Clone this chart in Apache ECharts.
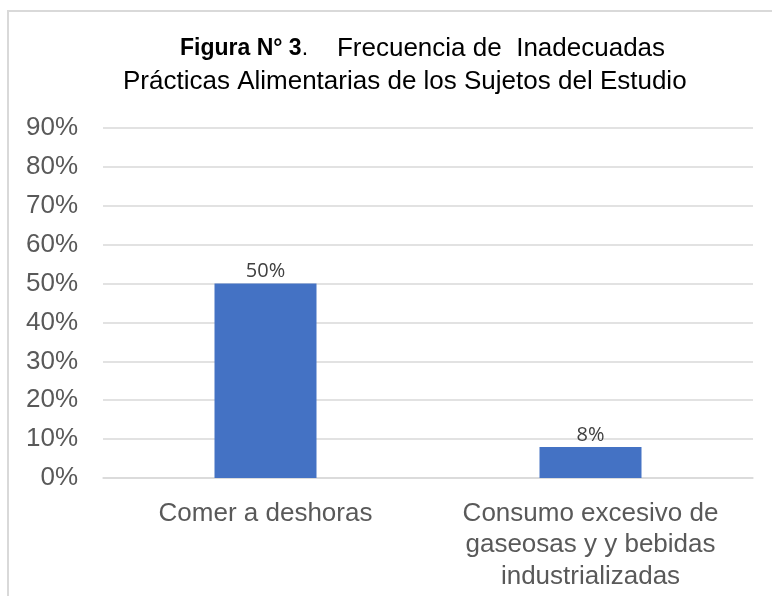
<!DOCTYPE html>
<html>
<head>
<meta charset="utf-8">
<script src="https://cdn.jsdelivr.net/npm/echarts@6/dist/echarts.min.js"></script>
<style>
  html, body { margin: 0; padding: 0; background: #fff; }
  #chart { width: 772px; height: 596px; }
</style>
</head>
<body>
<div id="chart"></div>
<script>
// datos de la figura
const categorias = ['Comer a deshoras', 'Consumo excesivo de\ngaseosas y y bebidas\nindustrializadas']
const valores = [50, 8]
const ejeMax = 90
const ejePaso = 10

const chart = echarts.init(document.getElementById('chart'))
chart.setOption({
  animation: false,
  graphic: [
    {
      type: 'rect',
      shape: { x: 8, y: 11, width: 820, height: 700 },
      style: { fill: 'none', stroke: '#d9d9d9', lineWidth: 2 },
      silent: true,
    },
  ],
  title: [
    {
      left: 175,
      top: 31,
      text: '{b|Figura N° 3}{n|.}{r|    Frecuencia de  Inadecuadas}',
      textStyle: {
        fontWeight: 'normal',
        rich: {
          b: { fontFamily: 'Liberation Sans', fontWeight: 'bold', fontSize: 23, color: '#000' },
          n: { fontFamily: 'Liberation Sans', fontWeight: 'normal', fontSize: 23, color: '#000' },
          r: { fontFamily: 'Liberation Sans', fontWeight: 'normal', fontSize: 26, color: '#000' },
        },
      },
    },
    {
      left: 118,
      top: 64,
      text: 'Prácticas Alimentarias de los Sujetos del Estudio',
      textStyle: { fontFamily: 'Liberation Sans', fontSize: 26, fontWeight: 'normal', color: '#000' },
    },
  ],
  grid: {
    left: 103,
    right: 19,
    top: 128,
    bottom: 118,
  },
  xAxis: {
    type: 'category',
    data: categorias,
    axisLine: { show: true, lineStyle: { color: '#d9d9d9', width: 1.5 } },
    axisTick: { show: false },
    axisLabel: {
      interval: 0,
      margin: 20,
      fontFamily: 'Liberation Sans',
      fontSize: 26,
      lineHeight: 31.5,
      color: '#595959',
    },
  },
  yAxis: {
    type: 'value',
    min: 0,
    max: ejeMax,
    interval: ejePaso,
    axisLine: { show: false },
    axisTick: { show: false },
    splitLine: { lineStyle: { color: '#d9d9d9', width: 1.5 } },
    axisLabel: {
      margin: 25,
      fontFamily: 'Liberation Sans',
      fontSize: 26,
      color: '#595959',
      formatter: '{value}%',
    },
  },
  series: [
    {
      type: 'bar',
      data: valores,
      barWidth: 102,
      itemStyle: { color: '#4472c4' },
      label: {
        show: true,
        position: 'top',
        distance: 2,
        fontFamily: 'Open Sans',
        fontSize: 20,
        color: '#404040',
        formatter: '{c}%',
      },
    },
  ],
})
</script>
</body>
</html>
